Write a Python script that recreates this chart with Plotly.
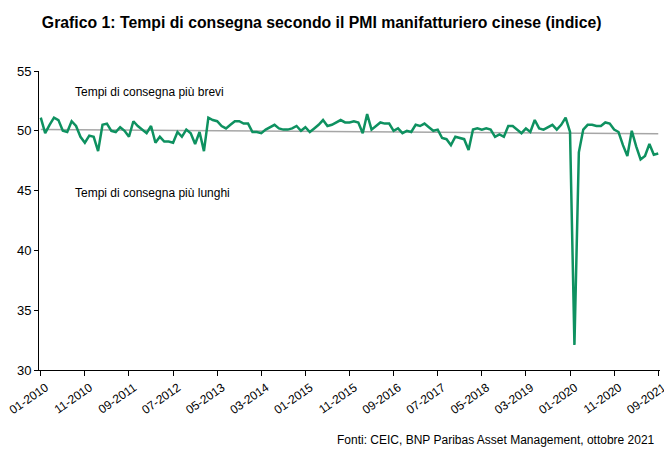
import plotly.graph_objects as go

# Monthly index values, 01-2010 .. 09-2021
v2010 = [51.1, 49.8, 50.5, 51.1, 50.9, 50.0, 49.9, 50.8, 50.4, 49.5, 49.0, 49.6]
v2011 = [49.5, 48.3, 50.5, 50.6, 50.0, 49.9, 50.3, 50.0, 49.5, 50.8, 50.4, 50.1]
v2012 = [49.8, 50.4, 49.0, 49.5, 49.1, 49.1, 49.0, 49.9, 49.5, 50.1, 49.8, 48.9]
v2013 = [49.9, 48.3, 51.1, 50.9, 50.8, 50.4, 50.2, 50.5, 50.8, 50.8, 50.6, 50.6]
v2014 = [49.9, 49.9, 49.8, 50.1, 50.3, 50.5, 50.2, 50.1, 50.1, 50.2, 50.4, 50.0]
v2015 = [50.3, 49.9, 50.2, 50.5, 50.9, 50.4, 50.5, 50.7, 50.9, 50.7, 50.7, 50.8]
v2016 = [50.7, 49.8, 51.4, 50.1, 50.4, 50.7, 50.6, 50.6, 50.0, 50.2, 49.8, 50.0]
v2017 = [49.9, 50.5, 50.4, 50.6, 50.3, 50.0, 50.1, 49.4, 49.3, 48.8, 49.5, 49.4]
v2018 = [49.3, 48.4, 50.1, 50.2, 50.1, 50.2, 50.1, 49.5, 49.7, 49.5, 50.4, 50.4]
v2019 = [50.1, 49.8, 50.2, 49.9, 50.9, 50.2, 50.1, 50.3, 50.5, 50.1, 50.5, 51.1]
v2020 = [49.9, 32.1, 48.2, 50.1, 50.5, 50.5, 50.4, 50.4, 50.7, 50.6, 50.1, 49.9]
v2021 = [48.8, 47.9, 50.0, 48.7, 47.6, 47.9, 48.9, 48.0, 48.1]

years = list(range(2010, 2022))
months = [f"{m:02d}-{y}" for y in years for m in range(1, 13)][:141]
values = v2010 + v2011 + v2012 + v2013 + v2014 + v2015 + v2016 + v2017 + v2018 + v2019 + v2020 + v2021

tick_labels = months[::10]
y_ticks = [30, 35, 40, 45, 50, 55]

# trend line end values
trend_start = 50.1
trend_end = 49.75

FONT = "Liberation Sans Narrow, Arial Narrow, Liberation Sans, Arial, sans-serif"
GREEN = "#0E9160"

fig = go.Figure()
fig.add_trace(go.Scatter(x=[months[0], months[-1]], y=[trend_start, trend_end], mode="lines",
                         line=dict(color="#A6A6A6", width=1.5), hoverinfo="skip"))
fig.add_trace(go.Scatter(x=months, y=values, mode="lines",
                         line=dict(color=GREEN, width=2.5)))

fig.update_layout(
    width=664, height=447,
    margin=dict(l=31, r=12, t=63, b=85, autoexpand=False),
    paper_bgcolor="white", plot_bgcolor="white",
    showlegend=False,
    font=dict(family=FONT, size=13, color="black"),
    title=dict(text="<b>Grafico 1: Tempi di consegna secondo il PMI manifatturiero cinese (indice)</b>",
               x=0.051, xanchor="left", y=0.968, yanchor="middle",
               font=dict(family=FONT, size=15.8, color="black")),
    xaxis=dict(type="category", categoryorder="array", categoryarray=months,
               range=[-0.4, 140.4], tickmode="array", tickvals=tick_labels, ticktext=tick_labels,
               tickangle=-35, ticklabelshift=5, showgrid=False, zeroline=False, automargin=False,
               showline=True, linecolor="black", linewidth=1,
               ticks="outside", ticklen=5, tickcolor="black",
               tickfont=dict(family=FONT, size=12)),
    yaxis=dict(range=[30, 55], tickvals=y_ticks, showgrid=False, zeroline=False, automargin=False,
               showline=True, linecolor="black", linewidth=1,
               ticks="outside", ticklen=4, tickcolor="black",
               tickfont=dict(family=FONT, size=13)),
    annotations=[
        dict(text="Tempi di consegna più brevi", x=months[7], y=53.25, xref="x", yref="y",
             xanchor="left", yanchor="middle", showarrow=False, xshift=1,
             font=dict(family=FONT, size=12)),
        dict(text="Tempi di consegna più lunghi", x=months[7], y=44.8, xref="x", yref="y",
             xanchor="left", yanchor="middle", showarrow=False, xshift=1,
             font=dict(family=FONT, size=12)),
        dict(text="Fonti: CEIC, BNP Paribas Asset Management, ottobre 2021",
             x=0.995, y=-0.234, xref="paper", yref="paper",
             xanchor="right", yanchor="middle", showarrow=False,
             font=dict(family=FONT, size=12)),
    ],
)

fig.write_html("out.html")
